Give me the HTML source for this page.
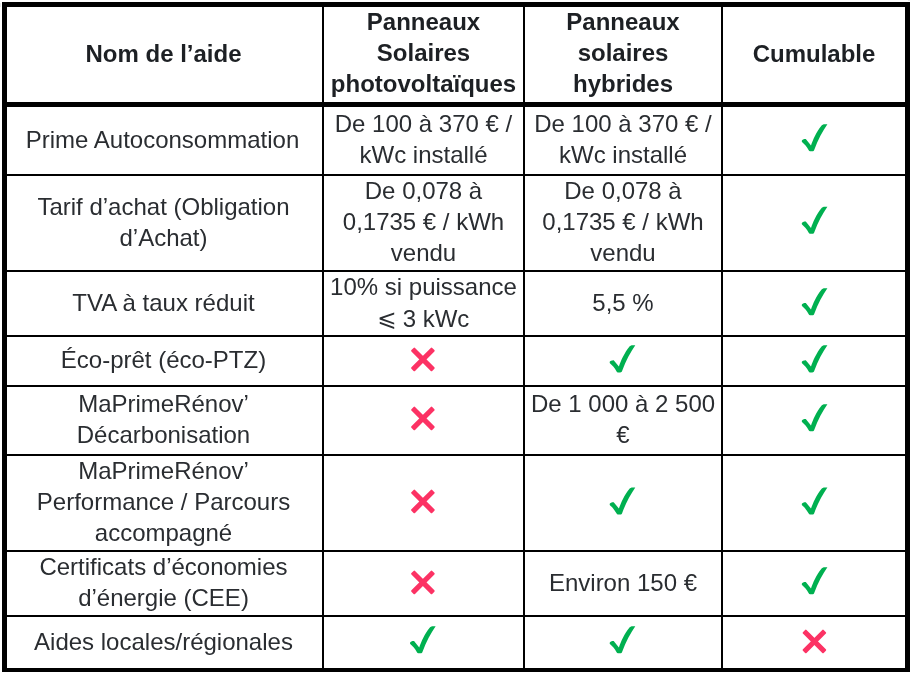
<!DOCTYPE html>
<html><head><meta charset="utf-8"><title>Aides panneaux solaires</title>
<style>
html,body{margin:0;padding:0;background:#fff;}
body{width:910px;height:673px;position:relative;overflow:hidden;font-family:"Liberation Sans",Arial,sans-serif;color:#2a2d31;}
.l{position:absolute;background:#000;}
.c{position:absolute;will-change:transform;display:flex;flex-direction:column;align-items:center;justify-content:center;text-align:center;font-size:24px;line-height:31px;white-space:nowrap;}
.c div{display:block;}
.h{font-weight:bold;color:#1d2024;}
.le{font-family:"DejaVu Math TeX Gyre","DejaVu Sans",sans-serif;font-size:23px;}
.ic{position:absolute;display:block;}
</style></head><body>

<div style="position:absolute;left:0;top:3px;width:1px;height:4px;background:#e6e9e9"></div>
<div style="position:absolute;left:908px;top:0;width:2px;height:1px;background:#e8eaea"></div>
<div class="l" style="left:2px;top:2px;width:908px;height:5px"></div>
<div class="l" style="left:2px;top:102px;width:908px;height:5px"></div>
<div class="l" style="left:2px;top:174px;width:908px;height:2px"></div>
<div class="l" style="left:2px;top:270px;width:908px;height:2px"></div>
<div class="l" style="left:2px;top:335px;width:908px;height:2px"></div>
<div class="l" style="left:2px;top:385px;width:908px;height:2px"></div>
<div class="l" style="left:2px;top:454px;width:908px;height:2px"></div>
<div class="l" style="left:2px;top:550px;width:908px;height:2px"></div>
<div class="l" style="left:2px;top:615px;width:908px;height:2px"></div>
<div class="l" style="left:2px;top:668px;width:908px;height:4px"></div>
<div class="l" style="left:2px;top:2px;width:5px;height:670px"></div>
<div class="l" style="left:322px;top:2px;width:2px;height:670px"></div>
<div class="l" style="left:523px;top:2px;width:2px;height:670px"></div>
<div class="l" style="left:721px;top:2px;width:2px;height:670px"></div>
<div class="l" style="left:905px;top:2px;width:5px;height:670px"></div>
<div class="c h" style="left:6px;top:6px;width:315px;height:95px"><div>Nom de l’aide</div></div>
<div class="c h" style="left:324px;top:5px;width:199px;height:95px"><div>Panneaux</div><div>Solaires</div><div>photovoltaïques</div></div>
<div class="c h" style="left:525px;top:5px;width:196px;height:95px"><div>Panneaux</div><div>solaires</div><div>hybrides</div></div>
<div class="c h" style="left:723px;top:6px;width:182px;height:95px"><div>Cumulable</div></div>
<div class="c" style="left:5px;top:106px;width:315px;height:67px"><div>Prime Autoconsommation</div></div>
<div class="c" style="left:324px;top:105px;width:199px;height:67px"><div>De 100 à 370 € /</div><div>kWc installé</div></div>
<div class="c" style="left:525px;top:105px;width:196px;height:67px"><div>De 100 à 370 € /</div><div>kWc installé</div></div>
<svg class="ic" style="left:799px;top:122px" width="32" height="32" viewBox="0 0 32 32"><path transform="translate(0.10,0.10)" d="M2.6 18.8 C3.2 17.6 4.8 16.9 6.7 17.0 L11.9 23.3 C13.7 17.8 17.5 9.5 22.3 3.6 C23.2 2.6 24.2 2.1 25.5 2.1 L28.3 2.1 C23.6 9 18.8 17.5 15.2 27.6 C14.9 28.6 14.2 29.2 13.2 29.2 L11.0 29.2 C10.3 29.2 9.9 28.8 9.6 28.2 C7.8 25.0 5.3 21.9 2.9 20.0 Z" fill="#00b050"/></svg>
<div class="c" style="left:6px;top:175px;width:315px;height:94px"><div>Tarif d’achat (Obligation</div><div>d’Achat)</div></div>
<div class="c" style="left:324px;top:174px;width:199px;height:94px"><div>De 0,078 à</div><div>0,1735 € / kWh</div><div>vendu</div></div>
<div class="c" style="left:525px;top:174px;width:196px;height:94px"><div>De 0,078 à</div><div>0,1735 € / kWh</div><div>vendu</div></div>
<svg class="ic" style="left:799px;top:204px" width="32" height="32" viewBox="0 0 32 32"><path transform="translate(0.10,0.60)" d="M2.6 18.8 C3.2 17.6 4.8 16.9 6.7 17.0 L11.9 23.3 C13.7 17.8 17.5 9.5 22.3 3.6 C23.2 2.6 24.2 2.1 25.5 2.1 L28.3 2.1 C23.6 9 18.8 17.5 15.2 27.6 C14.9 28.6 14.2 29.2 13.2 29.2 L11.0 29.2 C10.3 29.2 9.9 28.8 9.6 28.2 C7.8 25.0 5.3 21.9 2.9 20.0 Z" fill="#00b050"/></svg>
<div class="c" style="left:6px;top:271px;width:315px;height:63px"><div>TVA à taux réduit</div></div>
<div class="c" style="left:324px;top:271px;width:199px;height:63px"><div>10% si puissance</div><div style="position:relative;top:1px"><span class=le>⩽</span> 3 kWc</div></div>
<div class="c" style="left:525px;top:271px;width:196px;height:63px"><div>5,5 %</div></div>
<svg class="ic" style="left:799px;top:286px" width="32" height="32" viewBox="0 0 32 32"><path transform="translate(0.10,0.10)" d="M2.6 18.8 C3.2 17.6 4.8 16.9 6.7 17.0 L11.9 23.3 C13.7 17.8 17.5 9.5 22.3 3.6 C23.2 2.6 24.2 2.1 25.5 2.1 L28.3 2.1 C23.6 9 18.8 17.5 15.2 27.6 C14.9 28.6 14.2 29.2 13.2 29.2 L11.0 29.2 C10.3 29.2 9.9 28.8 9.6 28.2 C7.8 25.0 5.3 21.9 2.9 20.0 Z" fill="#00b050"/></svg>
<div class="c" style="left:6px;top:335px;width:315px;height:48px"><div>Éco-prêt (éco-PTZ)</div></div>
<svg class="ic" style="left:406px;top:343px" width="32" height="32" viewBox="0 0 32 32"><g fill="#fc3264" transform="translate(16.90,16.40)"><rect x="-14.7" y="-2.55" width="29.4" height="5.1" rx="1.0" transform="rotate(45)"/><rect x="-14.7" y="-2.55" width="29.4" height="5.1" rx="1.0" transform="rotate(-45)"/></g></svg>
<svg class="ic" style="left:607px;top:343px" width="32" height="32" viewBox="0 0 32 32"><path transform="translate(0.00,0.20)" d="M2.6 18.8 C3.2 17.6 4.8 16.9 6.7 17.0 L11.9 23.3 C13.7 17.8 17.5 9.5 22.3 3.6 C23.2 2.6 24.2 2.1 25.5 2.1 L28.3 2.1 C23.6 9 18.8 17.5 15.2 27.6 C14.9 28.6 14.2 29.2 13.2 29.2 L11.0 29.2 C10.3 29.2 9.9 28.8 9.6 28.2 C7.8 25.0 5.3 21.9 2.9 20.0 Z" fill="#00b050"/></svg>
<svg class="ic" style="left:799px;top:343px" width="32" height="32" viewBox="0 0 32 32"><path transform="translate(0.10,0.20)" d="M2.6 18.8 C3.2 17.6 4.8 16.9 6.7 17.0 L11.9 23.3 C13.7 17.8 17.5 9.5 22.3 3.6 C23.2 2.6 24.2 2.1 25.5 2.1 L28.3 2.1 C23.6 9 18.8 17.5 15.2 27.6 C14.9 28.6 14.2 29.2 13.2 29.2 L11.0 29.2 C10.3 29.2 9.9 28.8 9.6 28.2 C7.8 25.0 5.3 21.9 2.9 20.0 Z" fill="#00b050"/></svg>
<div class="c" style="left:6px;top:385px;width:315px;height:67px"><div>MaPrimeRénov’</div><div>Décarbonisation</div></div>
<svg class="ic" style="left:406px;top:402px" width="32" height="32" viewBox="0 0 32 32"><g fill="#fc3264" transform="translate(16.90,16.45)"><rect x="-14.7" y="-2.55" width="29.4" height="5.1" rx="1.0" transform="rotate(45)"/><rect x="-14.7" y="-2.55" width="29.4" height="5.1" rx="1.0" transform="rotate(-45)"/></g></svg>
<div class="c" style="left:525px;top:385px;width:196px;height:67px"><div>De 1 000 à 2 500</div><div>€</div></div>
<svg class="ic" style="left:799px;top:402px" width="32" height="32" viewBox="0 0 32 32"><path transform="translate(0.10,0.10)" d="M2.6 18.8 C3.2 17.6 4.8 16.9 6.7 17.0 L11.9 23.3 C13.7 17.8 17.5 9.5 22.3 3.6 C23.2 2.6 24.2 2.1 25.5 2.1 L28.3 2.1 C23.6 9 18.8 17.5 15.2 27.6 C14.9 28.6 14.2 29.2 13.2 29.2 L11.0 29.2 C10.3 29.2 9.9 28.8 9.6 28.2 C7.8 25.0 5.3 21.9 2.9 20.0 Z" fill="#00b050"/></svg>
<div class="c" style="left:6px;top:454px;width:315px;height:94px"><div>MaPrimeRénov’</div><div>Performance / Parcours</div><div>accompagné</div></div>
<svg class="ic" style="left:406px;top:485px" width="32" height="32" viewBox="0 0 32 32"><g fill="#fc3264" transform="translate(16.90,16.45)"><rect x="-14.7" y="-2.55" width="29.4" height="5.1" rx="1.0" transform="rotate(45)"/><rect x="-14.7" y="-2.55" width="29.4" height="5.1" rx="1.0" transform="rotate(-45)"/></g></svg>
<svg class="ic" style="left:607px;top:485px" width="32" height="32" viewBox="0 0 32 32"><path transform="translate(0.00,0.30)" d="M2.6 18.8 C3.2 17.6 4.8 16.9 6.7 17.0 L11.9 23.3 C13.7 17.8 17.5 9.5 22.3 3.6 C23.2 2.6 24.2 2.1 25.5 2.1 L28.3 2.1 C23.6 9 18.8 17.5 15.2 27.6 C14.9 28.6 14.2 29.2 13.2 29.2 L11.0 29.2 C10.3 29.2 9.9 28.8 9.6 28.2 C7.8 25.0 5.3 21.9 2.9 20.0 Z" fill="#00b050"/></svg>
<svg class="ic" style="left:799px;top:485px" width="32" height="32" viewBox="0 0 32 32"><path transform="translate(0.10,0.30)" d="M2.6 18.8 C3.2 17.6 4.8 16.9 6.7 17.0 L11.9 23.3 C13.7 17.8 17.5 9.5 22.3 3.6 C23.2 2.6 24.2 2.1 25.5 2.1 L28.3 2.1 C23.6 9 18.8 17.5 15.2 27.6 C14.9 28.6 14.2 29.2 13.2 29.2 L11.0 29.2 C10.3 29.2 9.9 28.8 9.6 28.2 C7.8 25.0 5.3 21.9 2.9 20.0 Z" fill="#00b050"/></svg>
<div class="c" style="left:6px;top:550px;width:315px;height:63px"><div>Certificats d’économies</div><div>d’énergie (CEE)</div></div>
<svg class="ic" style="left:406px;top:566px" width="32" height="32" viewBox="0 0 32 32"><g fill="#fc3264" transform="translate(16.90,16.40)"><rect x="-14.7" y="-2.55" width="29.4" height="5.1" rx="1.0" transform="rotate(45)"/><rect x="-14.7" y="-2.55" width="29.4" height="5.1" rx="1.0" transform="rotate(-45)"/></g></svg>
<div class="c" style="left:525px;top:551px;width:196px;height:63px"><div>Environ 150 €</div></div>
<svg class="ic" style="left:799px;top:565px" width="32" height="32" viewBox="0 0 32 32"><path transform="translate(0.10,0.10)" d="M2.6 18.8 C3.2 17.6 4.8 16.9 6.7 17.0 L11.9 23.3 C13.7 17.8 17.5 9.5 22.3 3.6 C23.2 2.6 24.2 2.1 25.5 2.1 L28.3 2.1 C23.6 9 18.8 17.5 15.2 27.6 C14.9 28.6 14.2 29.2 13.2 29.2 L11.0 29.2 C10.3 29.2 9.9 28.8 9.6 28.2 C7.8 25.0 5.3 21.9 2.9 20.0 Z" fill="#00b050"/></svg>
<div class="c" style="left:6px;top:616px;width:315px;height:51px"><div>Aides locales/régionales</div></div>
<svg class="ic" style="left:407px;top:624px" width="32" height="32" viewBox="0 0 32 32"><path transform="translate(0.35,0.10)" d="M2.6 18.8 C3.2 17.6 4.8 16.9 6.7 17.0 L11.9 23.3 C13.7 17.8 17.5 9.5 22.3 3.6 C23.2 2.6 24.2 2.1 25.5 2.1 L28.3 2.1 C23.6 9 18.8 17.5 15.2 27.6 C14.9 28.6 14.2 29.2 13.2 29.2 L11.0 29.2 C10.3 29.2 9.9 28.8 9.6 28.2 C7.8 25.0 5.3 21.9 2.9 20.0 Z" fill="#00b050"/></svg>
<svg class="ic" style="left:607px;top:624px" width="32" height="32" viewBox="0 0 32 32"><path transform="translate(0.00,0.10)" d="M2.6 18.8 C3.2 17.6 4.8 16.9 6.7 17.0 L11.9 23.3 C13.7 17.8 17.5 9.5 22.3 3.6 C23.2 2.6 24.2 2.1 25.5 2.1 L28.3 2.1 C23.6 9 18.8 17.5 15.2 27.6 C14.9 28.6 14.2 29.2 13.2 29.2 L11.0 29.2 C10.3 29.2 9.9 28.8 9.6 28.2 C7.8 25.0 5.3 21.9 2.9 20.0 Z" fill="#00b050"/></svg>
<svg class="ic" style="left:798px;top:625px" width="32" height="32" viewBox="0 0 32 32"><g fill="#fc3264" transform="translate(16.40,16.45)"><rect x="-14.7" y="-2.55" width="29.4" height="5.1" rx="1.0" transform="rotate(45)"/><rect x="-14.7" y="-2.55" width="29.4" height="5.1" rx="1.0" transform="rotate(-45)"/></g></svg>
</body></html>
